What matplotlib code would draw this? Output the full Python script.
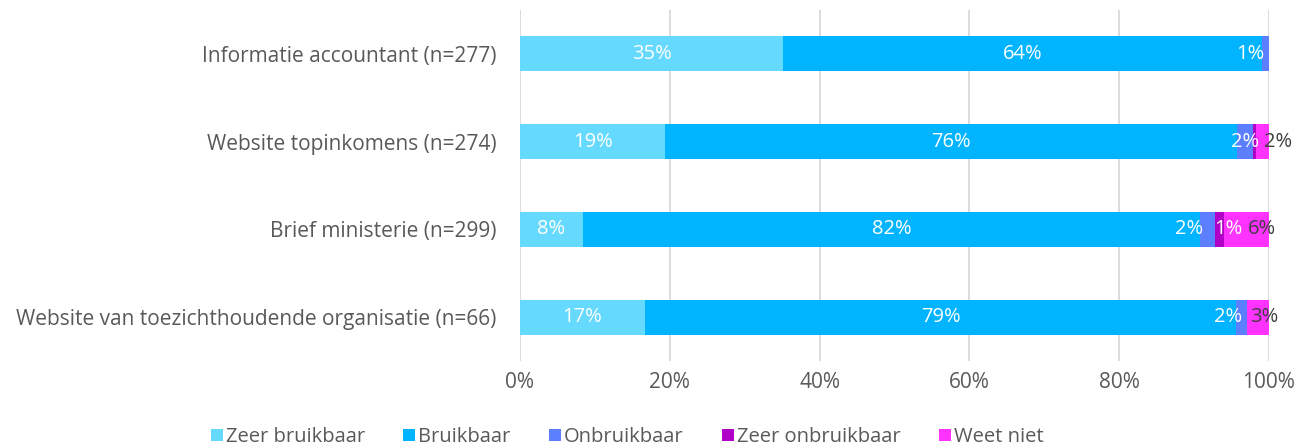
import numpy as np
import matplotlib.pyplot as plt

categories = ["Informatie accountant (n=277)",
              "Website topinkomens (n=274)",
              "Brief ministerie (n=299)",
              "Website van toezichthoudende organisatie (n=66)"]
series = ["Zeer bruikbaar", "Bruikbaar", "Onbruikbaar", "Zeer onbruikbaar", "Weet niet"]

zeer_bruikbaar = [35.1, 19.4, 8.4, 16.7]
bruikbaar = [64.0, 76.3, 82.4, 78.9]
onbruikbaar = [0.9, 2.2, 2.0, 1.5]
zeer_onbruikbaar = [0.0, 0.4, 1.2, 0.0]
weet_niet = [0.0, 1.7, 6.0, 2.9]

colors = ["#66D9FF", "#00B4FF", "#5B7FFF", "#B000C8", "#FF33FF"]
label_colors = ["white", "white", "white", "white", "#404040"]
# horizontal nudges (points) for crowded labels: (row, series) -> dx
nudge = {(0, 2): -11, (1, 4): 11, (2, 2): -13, (2, 3): 6, (2, 4): 11,
         (3, 2): -10, (3, 4): 4}

plt.rcParams['font.family'] = ['Open Sans', 'DejaVu Sans']
fig = plt.figure(figsize=(13.12, 4.48), dpi=100)
ax = fig.add_axes([520/1312, 1-361/448, 749/1312, 351/448])

data = [zeer_bruikbaar, bruikbaar, onbruikbaar, zeer_onbruikbaar, weet_niet]
y = np.arange(len(categories))
left = np.zeros(len(categories))
handles = []
for j, (name, vals) in enumerate(zip(series, data)):
    vals = np.array(vals)
    b = ax.barh(y, vals, left=left, height=0.4, color=colors[j], label=name, zorder=3)
    handles.append(b)
    for i, v in enumerate(vals):
        if round(v) >= 1:
            ax.annotate("%d%%" % round(v), (left[i] + v / 2, y[i]),
                        xytext=(nudge.get((i, j), 0), 0), textcoords="offset points",
                        ha="center", va="center", fontsize=14.5,
                        color=label_colors[j], zorder=4)
    left += vals

ax.set_xlim(0, 100)
ax.set_ylim(3.5, -0.5)
ax.set_yticks(y)
ax.set_yticklabels(categories, fontsize=15, color="#595959")
ax.set_xticks(np.arange(0, 101, 20))
ax.set_xticklabels(["%d%%" % t for t in range(0, 101, 20)], fontsize=15, color="#595959")
ax.tick_params(length=0)
ax.tick_params(axis="y", pad=17)
ax.tick_params(axis="x", pad=8)
ax.grid(axis="x", color="#D9D9D9", linewidth=1.3, zorder=0)
for s in ax.spines.values():
    s.set_visible(False)

fig.legend(handles=handles, loc="center", bbox_to_anchor=(627/1312, 1-437/448),
           ncol=5, frameon=False, fontsize=14.5, labelcolor="#595959",
           handlelength=0.6, handleheight=0.6, handletextpad=0.15, columnspacing=1.9)

fig.savefig("out.png", dpi=100)
